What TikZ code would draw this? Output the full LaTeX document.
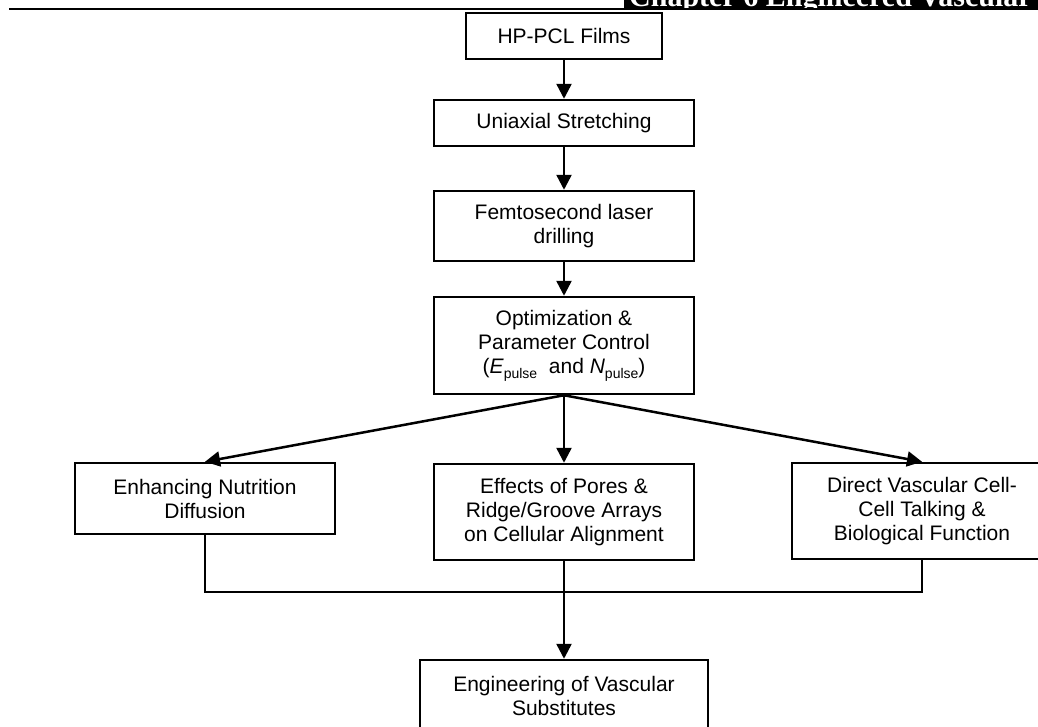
\documentclass[tikz,border=0pt]{standalone}
\usepackage{fontspec}
\setmainfont{Liberation Sans}
\newfontfamily\headfont{Liberation Serif}
\usetikzlibrary{arrows.meta}

% lowered small subscript in the text font
\newcommand{\lowsub}[1]{\raisebox{-5pt}{\fontsize{14}{14}\selectfont #1}}

\begin{document}
\begin{tikzpicture}[x=1pt, y=-1pt,
  box/.style={draw, line width=2.5pt, inner sep=0pt, align=center,
    minimum width=260pt, font=\fontsize{21}{24}\selectfont},
  arr/.style={line width=2.5pt, -{Triangle[length=15pt,width=15pt]}},
  link/.style={line width=2.5pt}]
  \useasboundingbox (0,0) rectangle (1038,726);
  % running head
  \begin{scope}
    \clip (624,0) rectangle (1038,9);
    \fill (624,0) rectangle (1038,9);
    \node[anchor=base west, inner sep=0pt, text=white,
      font=\headfont\bfseries\fontsize{30}{30}\selectfont] (head) at (629,6)
      {Chapter 6 Engineered Vascular};
  \end{scope}
  \draw[line width=2.5pt] (9,9) -- (1038,9);

  % process chain
  \node[box, minimum width=196pt, minimum height=46pt] (films) at (564,36) {HP-PCL Films};
  \node[box, minimum height=46pt] (stretch) at (564,123) {Uniaxial Stretching};
  \node[box, minimum height=70pt] (laser) at (564,226) {Femtosecond laser\\drilling};
  \node[box, minimum height=97pt] (optim) at (564,345.5)
    {Optimization \&\\Parameter Control\\(\textit{E}\lowsub{pulse}\ \ and \textit{N}\lowsub{pulse})};

  % outcomes
  \node[box, minimum height=71pt] (nutri) at (205,498.5) {Enhancing Nutrition\\Diffusion};
  \node[box, minimum height=96pt] (pores) at (564,512)
    {Effects of Pores \&\\Ridge/Groove Arrays\\on Cellular Alignment};
  \node[box, minimum height=96pt] (talk) at (922,511)
    {Direct Vascular Cell-\\Cell Talking \&\\Biological Function};
  \node[box, minimum width=288pt, minimum height=71pt] (eng) at (564,695.5)
    {Engineering of Vascular\\Substitutes};

  \draw[arr] (films) -- (stretch);
  \draw[arr] (stretch) -- (laser);
  \draw[arr] (laser) -- (optim);
  \draw[arr] (optim.south) -- (nutri.north);
  \draw[arr] (optim) -- (pores);
  \draw[arr] (optim.south) -- (talk.north);
  \coordinate (bus) at (564,592);
  \draw[link] (nutri.south) |- (bus) -| (talk.south);
  \draw[arr] (pores) -- (eng);
\end{tikzpicture}
\end{document}
